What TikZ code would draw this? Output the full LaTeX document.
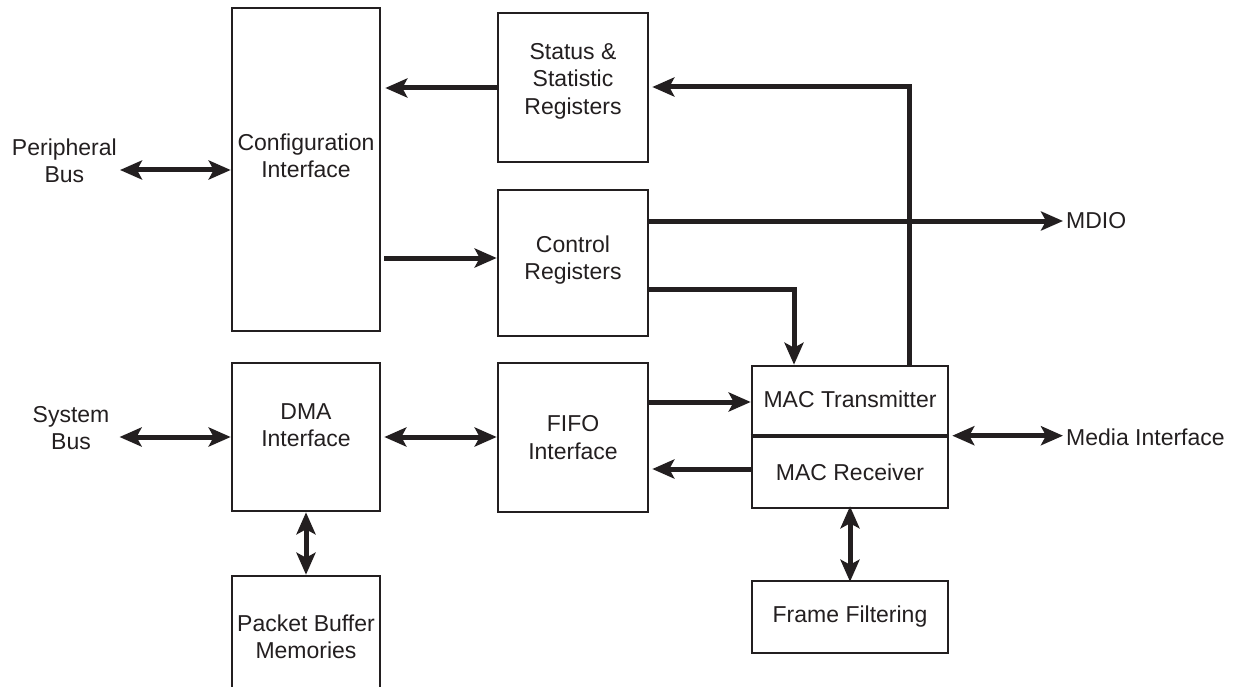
\documentclass[tikz,border=0pt]{standalone}
\usepackage{fontspec}
\setmainfont{Liberation Sans}
\usetikzlibrary{arrows.meta}
\definecolor{ink}{HTML}{231F20}
\tikzset{
  box/.style={draw=ink, line width=2.6pt, inner sep=0pt, fill=white},
  txt/.style={inner sep=0pt, align=center, text=ink, font=\fontsize{23}{27.5}\selectfont},
  conn/.style={draw=ink, line width=5pt},
  arr/.style={conn, -{Stealth[length=22pt,width=19pt,inset=5pt]}},
  dbl/.style={conn, {Stealth[length=22pt,width=19pt,inset=5pt]}-{Stealth[length=22pt,width=19pt,inset=5pt]}},
}
\begin{document}
\begin{tikzpicture}[x=1pt,y=-1pt]
\useasboundingbox (0,0) rectangle (1238,687);
\clip (0,0) rectangle (1238,687);
% boxes
\node[box, minimum width=148pt, minimum height=323pt] (cfg) at (306,169.5) {};
\node[txt] (cfgt) at (306,156) {Configuration\\Interface};
\node[box, minimum width=150pt, minimum height=149pt] (stat) at (573,87.5) {};
\node[txt] (statt) at (573,81) {Status \&\\Statistic\\Registers};
\node[box, minimum width=150pt, minimum height=146pt] (ctrl) at (573,263) {};
\node[txt] (ctrlt) at (573,260) {Control\\Registers};
\node[box, minimum width=148pt, minimum height=148pt] (dma) at (306,437) {};
\node[txt] (dmat) at (306,425) {DMA\\Interface};
\node[box, minimum width=150pt, minimum height=149pt] (fifo) at (573,437.5) {};
\node[txt] (fifot) at (573,437.5) {FIFO\\Interface};
\node[box, minimum width=148pt, minimum height=150pt] (pkt) at (306,651) {};
\node[txt] (pktt) at (306,637) {Packet Buffer\\Memories};
\node[box, minimum width=196pt, minimum height=71pt] (macT) at (850,401.5) {};
\node[txt] (macTt) at (850,399) {MAC Transmitter};
\node[box, minimum width=196pt, minimum height=71pt] (macR) at (850,472.5) {};
\node[txt] (macRt) at (850,472) {MAC Receiver};
\draw[ink, line width=4pt] (macR.north west) -- (macR.north east);
\node[box, minimum width=196pt, minimum height=72pt] (ff) at (850,617) {};
\node[txt] (fft) at (850,617) {Frame Filtering};
% external labels
\node[txt, anchor=east] (pbus) at (117,161) {Peripheral\\Bus};
\node[txt] (sbus) at (71,428) {System\\Bus};
\node[txt, anchor=west] (mdio) at (1066,221) {MDIO};
\node[txt, anchor=west] (media) at (1066,437) {Media Interface};
% connectors
\draw[dbl] (120,170 -| pbus.east) ++(3,0) -- (cfg.west |- 0,170);
\draw[dbl] (sbus.east |- dma.west) ++(10,0) -- (dma.west);
\draw[dbl] ([xshift=3pt]dma.east) -- (fifo.west |- dma.east);
\draw[dbl] (dma.south) -- (pkt.north);
\draw[arr] (stat.west |- 0,88) -- ([xshift=4pt]cfg.east |- 0,88);
\draw[arr] ([xshift=3pt]cfg.east |- 0,258) -- (ctrl.west |- 0,258);
\draw[arr] (macT.north -| 909,0) |- ([xshift=3pt]stat.east |- 0,87);
\draw[arr] (ctrl.east |- 0,221) -- ([xshift=-3pt]mdio.west |- 0,221);
\draw[arr] (ctrl.east |- 0,289) -| (macT.north -| 794,0);
\draw[arr] (fifo.east |- 0,402) -- (macT.west |- 0,402);
\draw[arr] (macR.west |- 0,469) -- ([xshift=3pt]fifo.east |- 0,469);
\draw[dbl] ([xshift=3pt]macR.north east) -- ([xshift=-3pt]media.west |- macR.north east);
\draw[dbl] ([yshift=3pt]macR.south) -- ([yshift=-2pt]ff.north);
\end{tikzpicture}
\end{document}
